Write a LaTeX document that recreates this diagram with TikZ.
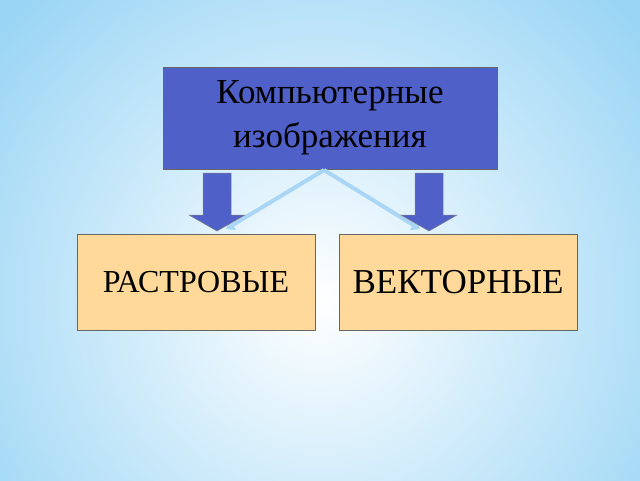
\documentclass[tikz,border=0pt]{standalone}
\usepackage{fontspec}
\setmainfont{Liberation Serif}
\usetikzlibrary{arrows.meta}
\begin{document}
\begin{tikzpicture}[x=1pt,y=-1pt,
  blk/.style={draw=black!60,line width=0.6pt,fill=blue4},
  cat/.style={draw=black!60,line width=0.6pt,fill=peach,minimum width=238pt,minimum height=96pt},
  barrow/.style={draw=black!50,line width=0.5pt,fill=blue4},
  link/.style={draw=lblue,line width=4pt,-{Triangle[length=8pt,width=12pt]}}]
\definecolor{blue4}{HTML}{4F61C9}
\definecolor{peach}{HTML}{FFD999}
\definecolor{lblue}{HTML}{A9D6F5}
\definecolor{bgedge}{HTML}{9AD5F5}
\useasboundingbox (0,0) rectangle (640,480);
\fill[bgedge] (0,0) rectangle (640,480);
\begin{scope}
\clip (0,0) rectangle (640,480);
\shade[inner color=white,outer color=bgedge] (320,300) circle (420);
\end{scope}
\node[blk,minimum width=334pt,minimum height=102pt,align=center,font=\fontsize{35}{44}\selectfont] (top) at (330,118) {Компьютерные\\изображения};
\node[cat,font=\fontsize{32}{36}\selectfont] (ras) at (196,282) {РАСТРОВЫЕ};
\node[cat,font=\fontsize{35}{40}\selectfont] (vec) at (458,282) {ВЕКТОРНЫЕ};
\coordinate (apex) at (324,170);
\coordinate (la) at (226,229);
\coordinate (ra) at (420,229);
\draw[link] (apex) -- (la);
\draw[link] (apex) -- (ra);
\draw[barrow] (203,173) -- (231,173) -- (231,215) -- (245,215) -- (217,231) -- (189,215) -- (203,215) -- cycle;
\draw[barrow] (415,173) -- (443,173) -- (443,215) -- (457,215) -- (429,231) -- (401,215) -- (415,215) -- cycle;
\end{tikzpicture}
\end{document}
